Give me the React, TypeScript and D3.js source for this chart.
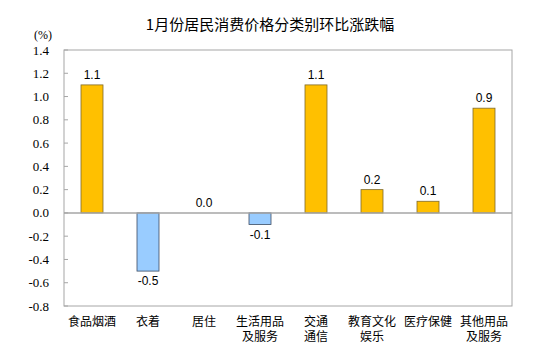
import React from "react";
import * as d3 from "d3";

const categories: string[][] = [
  ["食品烟酒"],
  ["衣着"],
  ["居住"],
  ["生活用品", "及服务"],
  ["交通", "通信"],
  ["教育文化", "娱乐"],
  ["医疗保健"],
  ["其他用品", "及服务"],
];
const values: number[] = [1.1, -0.5, 0.0, -0.1, 1.1, 0.2, 0.1, 0.9];
const yTicks: number[] = [1.4, 1.2, 1.0, 0.8, 0.6, 0.4, 0.2, 0.0, -0.2, -0.4, -0.6, -0.8];
const title = "1月份居民消费价格分类别环比涨跌幅";

export default function App() {
  const W = 541, H = 358;
  const left = 64, right = 512, top = 50, bottom = 306;
  const x = d3.scaleBand<number>().domain(d3.range(categories.length)).range([left, right]);
  const y = d3.scaleLinear().domain([-0.8, 1.4]).range([bottom, top]);
  const bw = 22;
  const cjk = "'Noto Sans CJK SC', sans-serif";
  return (
    <svg width={W} height={H} style={{ position: "absolute", left: 0, top: 0, background: "#fff" }}>
      <text x={270} y={30} textAnchor="middle" fontFamily={cjk} fontSize={15} fill="#000">{title}</text>
      <text x={43} y={39} textAnchor="middle" fontFamily="'Liberation Serif', serif" fontSize={12} fill="#000">(%)</text>
      <rect x={left} y={top} width={right - left} height={bottom - top} fill="none" stroke="#a6a6a6" strokeWidth={1} />
      {yTicks.map((t) => (
        <g key={t}>
          <line x1={left} x2={left + 4} y1={y(t)} y2={y(t)} stroke="#a6a6a6" />
          <text x={49} y={y(t)} dy="0.35em" textAnchor="end" fontFamily="'Liberation Serif', serif" fontSize={13} fill="#000">
            {t.toFixed(1)}
          </text>
        </g>
      ))}
      {values.map((v, i) => {
        const cx = x(i)! + x.bandwidth() / 2;
        const y0 = y(0), y1 = y(v);
        const pos = v >= 0;
        return (
          <g key={i}>
            {v !== 0 && (
              <rect
                x={cx - bw / 2}
                y={Math.min(y0, y1)}
                width={bw}
                height={Math.abs(y1 - y0)}
                fill={pos ? "#FFC000" : "#99CCFF"}
                stroke={pos ? "#7f6a2a" : "#3c4c63"}
                strokeWidth={0.8}
              />
            )}
            <text
              x={cx}
              y={pos ? y1 - 6 : y1 + 14}
              textAnchor="middle"
              fontFamily="'Liberation Sans', Arial, sans-serif"
              fontSize={12}
              fill="#000"
            >
              {v.toFixed(1)}
            </text>
            {categories[i].map((line, j) => (
              <text key={j} x={cx} y={326 + j * 15} textAnchor="middle" fontFamily={cjk} fontSize={12} fill="#000">
                {line}
              </text>
            ))}
          </g>
        );
      })}
      <line x1={left} x2={right} y1={y(0)} y2={y(0)} stroke="#a6a6a6" strokeWidth={1.5} />
    </svg>
  );
}
